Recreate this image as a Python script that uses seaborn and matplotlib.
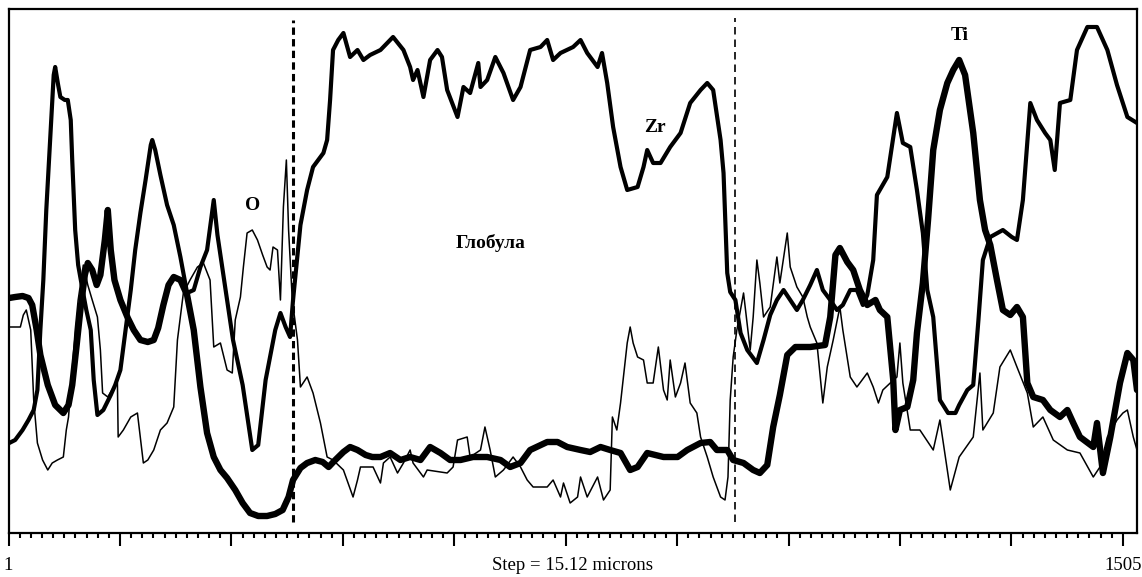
import numpy as np
import pandas as pd
import matplotlib
matplotlib.use("Agg")
import matplotlib.pyplot as plt
import seaborn as sns

# ---- data (step index, intensity in arbitrary units) ----
ti_step = [2, 10, 20, 28, 33, 39, 44, 54, 64, 75, 82, 87, 93, 98, 104, 108, 114, 120, 125, 131, 135, 139, 144, 152,
           162, 170, 179, 189, 197, 203, 210, 217, 224, 233, 242, 251, 260, 269, 278, 287, 296, 307, 317, 327, 338,
           350, 361, 371, 379, 385, 395, 404, 415, 425, 433, 442, 453, 462, 472, 483, 492, 503, 516, 530, 543, 557,
           570, 584, 597, 611, 628, 647, 665, 678, 692, 705, 728, 742, 755, 773, 786, 800, 813, 827, 840, 850, 863,
           885, 904, 917, 935, 948, 957, 971, 979, 993, 1006, 1015, 1025, 1033, 1042, 1052, 1063, 1083, 1103, 1110,
           1117, 1123, 1133, 1141, 1150, 1160, 1171, 1177, 1187, 1195, 1198, 1204, 1214, 1222, 1227, 1235, 1242,
           1249, 1258, 1268, 1276, 1284, 1292, 1303, 1312, 1319, 1326, 1335, 1343, 1353, 1362, 1370, 1376, 1384,
           1397, 1407, 1420, 1430, 1438, 1447, 1465, 1470, 1478, 1488, 1501, 1511, 1519, 1524]
ti_val = [235, 236, 237, 235, 228, 203, 178, 148, 128, 120, 128, 148, 188, 223, 258, 270, 263, 248, 258, 293, 323, 283,
          253, 233, 215, 203, 193, 191, 193, 205, 228, 248, 256, 253, 238, 203, 146, 100, 76, 63, 55, 43, 30, 20, 17,
          17, 19, 23, 36, 53, 65, 70, 73, 71, 66, 73, 81, 86, 83, 78, 76, 76, 80, 73, 76, 73, 86, 80, 73, 73, 76, 76,
          73, 66, 70, 83, 91, 91, 86, 83, 81, 86, 83, 80, 63, 66, 80, 76, 76, 83, 90, 91, 83, 83, 73, 70, 63, 60, 68,
          106, 138, 178, 186, 186, 188, 216, 278, 285, 271, 263, 243, 228, 233, 223, 216, 153, 103, 123, 126, 153,
          200, 250, 313, 383, 423, 450, 463, 473, 458, 400, 333, 303, 288, 253, 223, 218, 226, 216, 150, 136, 133,
          123, 116, 123, 110, 96, 86, 110, 60, 96, 150, 180, 173, 143]

zr_step = [2, 10, 20, 28, 35, 40, 44, 48, 52, 58, 62, 64, 68, 71, 77, 81, 85, 87, 91, 95, 101, 106, 112, 116, 121,
           129, 139, 145, 152, 159, 166, 172, 179, 186, 193, 195, 199, 206, 215, 224, 233, 242, 251, 260, 269, 278,
           283, 294, 304, 317, 330, 338, 348, 361, 368, 375, 381, 385, 395, 404, 412, 426, 431, 435, 439, 446, 453,
           462, 472, 480, 489, 503, 520, 534, 543, 547, 553, 561, 570, 580, 586, 593, 607, 615, 624, 635, 638, 647,
           658, 669, 682, 692, 705, 719, 728, 736, 746, 763, 773, 782, 796, 802, 809, 817, 827, 836, 850, 858, 863,
           871, 881, 894, 908, 921, 935, 944, 952, 962, 966, 971, 975, 982, 989, 998, 1011, 1020, 1029, 1038, 1047,
           1056, 1065, 1073, 1083, 1092, 1100, 1110, 1119, 1127, 1137, 1146, 1154, 1160, 1168, 1173, 1187, 1200,
           1208, 1218, 1227, 1235, 1241, 1249, 1258, 1269, 1279, 1284, 1295, 1303, 1310, 1316, 1326, 1343, 1355,
           1362, 1370, 1380, 1389, 1400, 1407, 1413, 1420, 1434, 1443, 1457, 1470, 1484, 1497, 1511, 1524]
zr_val = [90, 93, 103, 113, 123, 143, 203, 253, 323, 403, 458, 466, 448, 436, 433, 433, 413, 373, 303, 268, 243, 223,
          203, 153, 118, 123, 138, 148, 163, 203, 243, 283, 320, 353, 388, 393, 383, 358, 328, 308, 276, 240, 243,
          266, 283, 333, 298, 243, 193, 148, 83, 88, 153, 203, 220, 206, 196, 233, 308, 343, 366, 380, 393, 433, 483,
          493, 500, 476, 483, 473, 478, 483, 496, 483, 466, 453, 463, 436, 473, 483, 476, 443, 416, 446, 440, 470,
          446, 453, 476, 460, 433, 446, 483, 486, 493, 473, 480, 486, 493, 480, 466, 480, 450, 406, 366, 343, 346,
          366, 383, 370, 370, 386, 400, 430, 443, 450, 443, 393, 360, 260, 241, 233, 200, 183, 170, 193, 218, 233,
          243, 233, 223, 233, 248, 263, 243, 233, 223, 228, 243, 243, 228, 238, 273, 338, 356, 420, 390, 386, 343,
          300, 243, 216, 133, 120, 120, 128, 143, 148, 213, 273, 296, 303, 296, 293, 333, 430, 413, 400, 393, 363,
          430, 433, 483, 506, 506, 483, 448, 416, 410]

o_step = [2, 10, 17, 21, 25, 31, 35, 40, 47, 54, 60, 67, 75, 79, 82, 87, 91, 95, 102, 108, 114, 121, 125, 128, 135,
          143, 148, 149, 156, 166, 175, 183, 189, 197, 206, 215, 224, 229, 237, 246, 256, 264, 273, 278, 287, 296,
          303, 307, 314, 318, 323, 330, 337, 344, 350, 354, 358, 364, 368, 372, 376, 379, 384, 391, 395, 404, 412,
          422, 431, 439, 453, 466, 472, 476, 493, 503, 507, 516, 526, 534, 543, 547, 561, 566, 593, 601, 607, 620,
          624, 638, 644, 651, 658, 669, 682, 692, 701, 709, 728, 736, 746, 750, 759, 769, 773, 782, 796, 804, 813,
          816, 822, 827, 836, 840, 844, 850, 858, 863, 871, 878, 885, 890, 894, 901, 908, 914, 921, 930, 935, 944,
          952, 962, 968, 972, 975, 979, 984, 993, 1002, 1006, 1011, 1015, 1020, 1029, 1038, 1042, 1052, 1056, 1065,
          1073, 1079, 1083, 1092, 1100, 1106, 1114, 1123, 1127, 1137, 1146, 1160, 1168, 1175, 1181, 1191, 1200,
          1204, 1208, 1218, 1231, 1249, 1258, 1272, 1284, 1303, 1312, 1316, 1330, 1339, 1353, 1362, 1376, 1384,
          1397, 1411, 1430, 1447, 1465, 1474, 1484, 1497, 1505, 1511, 1519, 1524]
o_val = [206, 206, 206, 218, 223, 203, 133, 90, 73, 63, 70, 73, 76, 103, 116, 163, 203, 233, 268, 248, 233, 216, 183,
         140, 136, 146, 150, 96, 103, 116, 120, 70, 73, 83, 103, 110, 126, 193, 240, 253, 266, 270, 253, 186, 190,
         163, 160, 213, 236, 266, 300, 303, 293, 278, 266, 263, 286, 283, 233, 326, 373, 303, 233, 193, 146, 156,
         140, 110, 76, 73, 63, 36, 53, 66, 66, 50, 70, 76, 60, 70, 83, 70, 56, 63, 60, 66, 93, 96, 76, 83, 106, 83,
         56, 63, 76, 66, 53, 46, 46, 53, 36, 50, 30, 36, 56, 36, 56, 33, 43, 116, 103, 130, 190, 206, 190, 176, 173,
         150, 150, 186, 143, 133, 173, 136, 150, 170, 130, 120, 96, 76, 56, 36, 33, 56, 133, 176, 203, 240, 183, 216,
         273, 250, 216, 226, 276, 250, 300, 266, 246, 236, 216, 206, 190, 130, 166, 193, 226, 203, 156, 146, 160,
         146, 130, 143, 150, 156, 190, 150, 103, 103, 83, 113, 43, 76, 96, 160, 103, 120, 166, 183, 166, 140, 106,
         116, 93, 83, 80, 56, 66, 96, 113, 120, 123, 96, 83]

boundaries = [385, 982]
labels = {"O": (330, 328), "Глобула": (651, 290), "Zr": (874, 406), "Ti": (1285, 498)}
x_first, x_last = 1, 1505
step_text = "Step = 15.12 microns"

# ---- figure ----
sns.set_theme(style="white")
plt.rcParams["font.family"] = ["Liberation Serif", "DejaVu Serif"]

fig = plt.figure(figsize=(11.42, 5.77), dpi=100)
ax = fig.add_axes([8.5 / 1142, 1 - 533 / 577, (1137 - 8.5) / 1142, (533 - 9) / 577])

frames = [
    pd.DataFrame({"step": o_step, "val": o_val}),
    pd.DataFrame({"step": zr_step, "val": zr_val}),
    pd.DataFrame({"step": ti_step, "val": ti_val}),
]
widths = [1.1, 3.0, 4.6]
for df, lw in zip(frames, widths):
    sns.lineplot(data=df, x="step", y="val", ax=ax, color="black", linewidth=lw,
                 estimator=None, sort=False, legend=False)
for line in ax.get_lines():
    line.set_solid_joinstyle("round")
    line.set_solid_capstyle("round")

# globule boundaries
ax.plot([boundaries[0]] * 2, [11, 513], color="black", lw=2.2, linestyle=(0, (2.4, 1.4)))
ax.plot([boundaries[1]] * 2, [11, 515], color="black", lw=1.2, linestyle=(0, (4.5, 3.0)))

for txt, (xx, yy) in labels.items():
    ax.text(xx, yy, txt, ha="center", va="center", fontsize=14, fontweight="bold", color="black")

ax.set_xlim(1, 1524)
ax.set_ylim(0, 524)

majors = np.linspace(x_first, x_last, 11)
minors = np.linspace(x_first, x_last, 101)
ax.set_xticks(majors)
ax.set_xticks(minors, minor=True)
ax.set_xticklabels([str(x_first)] + [""] * 9 + [str(x_last)])
ax.set_yticks([])
ax.tick_params(axis="x", which="major", direction="out", length=9, width=1.5, color="black",
               pad=8.5, labelsize=13.5, labelcolor="black", bottom=True)
ax.tick_params(axis="x", which="minor", direction="out", length=3.5, width=1.5, color="black", bottom=True)
ax.set_xlabel("")
ax.set_ylabel("")
ax.text(0.5, -0.062, step_text, transform=ax.transAxes, ha="center", va="center",
        fontsize=13.5, color="black")

for s in ax.spines.values():
    s.set_visible(True)
    s.set_color("black")
    s.set_linewidth(1.6)

fig.savefig("out.png", dpi=100, facecolor="white")
